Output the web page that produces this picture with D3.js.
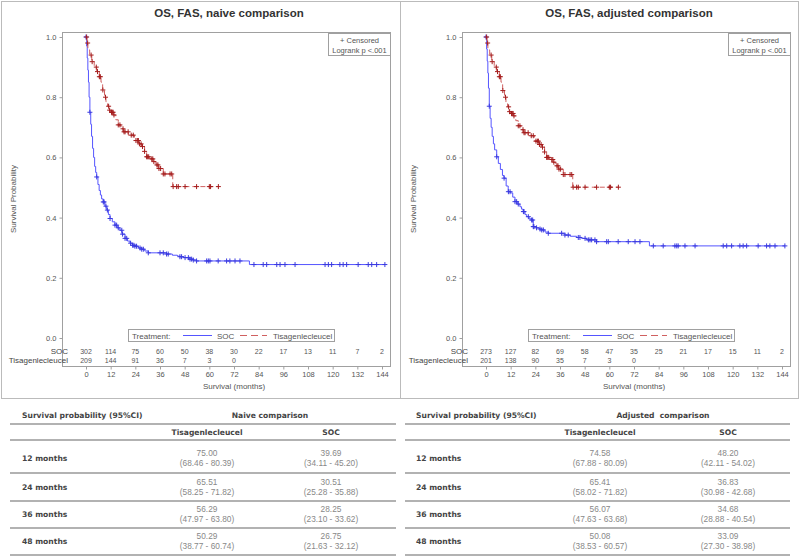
<!DOCTYPE html>
<html><head><meta charset="utf-8">
<script src="https://cdn.jsdelivr.net/npm/d3@7"></script>
<style>body{margin:0;background:#fff}svg{display:block;font-family:"Liberation Sans",Arial,sans-serif}</style>
</head><body><svg id="c" width="800" height="556"></svg>
<script>
// ---------- DATA ----------
const panelTitles = ["OS, FAS, naive comparison", "OS, FAS, adjusted comparison"];
const xTicks = [0, 12, 24, 36, 48, 60, 72, 84, 96, 108, 120, 132, 144];
const yTicks = [0.0, 0.2, 0.4, 0.6, 0.8, 1.0];
const groups = ["SOC", "Tisagenlecleucel"];

// Naive: SOC (event times, survival after event)
const naiveSocT = [0,0.3,0.6,0.9,1.2,1.5,1.9,2.3,2.7,3.2,3.7,4.2,4.7,5.2,5.8,6.4,7.0,7.6,8.4,9.2,10.1,10.9,11.7,12.8,14.1,15.2,16.5,17.5,19.0,20.2,21.4,22.6,23.8,25.5,27.1,28.6,30.3,39.2,42.0,44.5,45.7,47.5,50.0,52.0,53.8,79.5];
const naiveSocS = [1,0.97,0.93,0.89,0.85,0.80,0.75,0.71,0.67,0.63,0.60,0.57,0.55,0.535,0.51,0.49,0.475,0.462,0.452,0.438,0.425,0.41,0.397,0.386,0.375,0.366,0.358,0.345,0.331,0.322,0.315,0.308,0.305,0.299,0.295,0.289,0.283,0.279,0.275,0.272,0.27,0.267,0.262,0.259,0.256,0.244];
const naiveSocCens = [0,1.9,5.2,8.4,8.8,9.7,10.4,11.7,14.1,14.9,15.7,17.4,17.8,19,19.8,21.7,22.7,23.3,23.8,24.6,26.3,27.1,27.9,30.3,36,37.6,39.2,40,45.7,46.5,48.2,49.8,50.6,51.4,52.2,53.8,58.7,59.5,60.3,64.3,68.4,70,72.5,74.9,81.7,86.2,87.9,92.8,94.4,96.8,101.7,116.3,117.9,119.5,123.5,125.1,126.8,132.4,137.3,139,141.4,145.4];
// Naive: Tisagenlecleucel
const naiveTisT = [0,0.5,0.9,1.8,2.8,4.0,5.2,6.5,7.3,8.1,9.0,9.7,10.5,11.3,12.0,13.3,14.5,15.7,17.0,18.2,20.6,23.6,26.0,27.1,28.5,29.5,31.0,32.7,34.0,35.2,37.6,42.2];
const naiveTisS = [1,0.98,0.957,0.94,0.918,0.90,0.885,0.868,0.85,0.824,0.80,0.785,0.77,0.757,0.75,0.741,0.725,0.708,0.695,0.685,0.674,0.656,0.645,0.636,0.62,0.602,0.595,0.586,0.575,0.563,0.545,0.503];
const naiveTisCens = [0.3,0.8,2.5,3,5,5.6,6.5,7,8.2,9.5,11,11.5,12.4,12.8,13.2,13.6,15.7,16.5,18,18.5,19,20.5,22,23,24.3,25,25.5,26,26.8,27.5,28.5,29.5,30,30.5,32,32.5,33,34.5,35,35.5,36.3,37.6,38.4,40.9,41.7,42.4,44.1,44.9,48.2,53.8,60,60.6,64.4];

// Adjusted: SOC
const adjSocT = [0,0.3,0.6,0.9,1.2,1.6,2.0,2.5,3.0,3.6,4.2,5.2,6.0,7.0,8.0,8.8,9.8,10.8,12.0,13.0,14.1,15.2,16.5,17.3,18.1,19.0,19.8,21.0,22.2,23.0,24.5,26.0,27.1,28.7,30.3,38.4,41.0,44.1,46.5,49.0,53.8,79.5];
const adjSocS = [1,0.96,0.92,0.88,0.83,0.77,0.73,0.70,0.67,0.645,0.625,0.602,0.58,0.56,0.54,0.531,0.505,0.486,0.482,0.468,0.453,0.445,0.436,0.428,0.42,0.41,0.403,0.396,0.392,0.37,0.366,0.362,0.359,0.352,0.348,0.342,0.338,0.334,0.331,0.326,0.32,0.306];
const adjSocCens = [0,1.6,5.2,8.8,10.9,11.7,14.1,14.9,15.7,18.2,18.5,20.6,22.2,22.7,23,23.3,24.6,26.3,27.1,27.9,30.3,36.8,38.4,40,44.9,45.7,48.2,49.8,50.6,51.4,53,53.8,58.7,59.5,64.3,69.2,72.5,74.9,81.4,86.2,91.9,92.8,93.5,96.8,101.7,115.4,117.1,119.5,123.5,125.1,126.8,132.4,136.5,138.1,140.6,145.4];
// Adjusted: Tisagenlecleucel
const adjTisT = [0,0.5,0.9,1.8,2.8,4.0,5.2,6.5,7.3,8.1,9.0,9.7,10.5,11.3,12.0,13.3,14.5,15.7,17.0,18.2,20.6,23.6,26.0,27.1,28.5,29.5,31.0,32.7,34.0,35.2,37.6,42.2];
const adjTisS = [1,0.98,0.957,0.94,0.918,0.90,0.885,0.868,0.85,0.822,0.80,0.783,0.768,0.752,0.746,0.738,0.722,0.705,0.692,0.682,0.672,0.654,0.643,0.634,0.618,0.60,0.593,0.584,0.572,0.561,0.543,0.501];
const adjTisCens = [0.3,0.8,2.5,3,5,5.6,6.5,7,8.2,9.5,11,11.5,12.4,12.8,13.2,13.6,15.7,16.5,18,18.5,19,20.5,22,23,24.3,25,25.5,26,26.8,27.5,28.5,29.5,30,30.5,32,32.5,33,34.5,35,35.5,36.3,37.6,38.4,40.9,41.7,42.4,44.1,44.9,48.2,53.8,60,60.6,64.4];

// Numbers at risk
const naiveRiskSoc = [302,114,75,60,50,38,30,22,17,13,11,7,2];
const naiveRiskTis = [209,144,91,36,7,3,0];
const adjRiskSoc = [273,127,82,69,58,47,35,25,21,17,15,11,2];
const adjRiskTis = [201,138,90,35,7,3,0];

// Survival probability tables
const tableTitles = ["Naive comparison", "Adjusted  comparison"];
const tableRows = ["12 months", "24 months", "36 months", "48 months"];
const naiveTisEst = ["75.00","65.51","56.29","50.29"];
const naiveTisCI = ["(68.46 - 80.39)","(58.25 - 71.82)","(47.97 - 63.80)","(38.77 - 60.74)"];
const naiveSocEst = ["39.69","30.51","28.25","26.75"];
const naiveSocCI = ["(34.11 - 45.20)","(25.28 - 35.88)","(23.10 - 33.62)","(21.63 - 32.12)"];
const adjTisEst = ["74.58","65.41","56.07","50.08"];
const adjTisCI = ["(67.88 - 80.09)","(58.02 - 71.82)","(47.63 - 63.68)","(38.53 - 60.57)"];
const adjSocEst = ["48.20","36.83","34.68","33.09"];
const adjSocCI = ["(42.11 - 54.02)","(30.98 - 42.68)","(28.88 - 40.54)","(27.30 - 38.98)"];

// ---------- DRAW ----------
const svg = d3.select("#c");
const BLUE = "#5555ff", RED = "#c0302a", AX = "#555", FR = "#a0a0a0";

// outer panel borders
svg.append("rect").attr("x",1.5).attr("y",1.5).attr("width",797).attr("height",397)
  .attr("fill","none").attr("stroke","#bbb");
svg.append("line").attr("x1",400.5).attr("x2",400.5).attr("y1",1.5).attr("y2",398.5).attr("stroke","#bbb");

function stepVal(T, S, t){ let v = S[0]; for (let i=0;i<T.length;i++){ if (T[i] <= t) v = S[i]; } return v; }

const panels = [
  {ox:0, title:panelTitles[0], soc:{T:naiveSocT,S:naiveSocS,C:naiveSocCens}, tis:{T:naiveTisT,S:naiveTisS,C:naiveTisCens}, risk:[naiveRiskSoc,naiveRiskTis]},
  {ox:400, title:panelTitles[1], soc:{T:adjSocT,S:adjSocS,C:adjSocCens}, tis:{T:adjTisT,S:adjTisS,C:adjTisCens}, risk:[adjRiskSoc,adjRiskTis]}
];

panels.forEach(p => {
  const g = svg.append("g").attr("transform", `translate(${p.ox},0)`);
  const x = d3.scaleLinear().domain([0,144]).range([86,382]);
  const y = d3.scaleLinear().domain([0,1]).range([338,37]);

  g.append("text").attr("x",229).attr("y",17).attr("text-anchor","middle")
    .attr("font-size",11.5).attr("font-weight","bold").attr("fill","#333").text(p.title);

  // frame
  g.append("rect").attr("x",62.5).attr("y",32.5).attr("width",328).attr("height",334)
    .attr("fill","none").attr("stroke",FR);

  // y axis
  const ya = g.append("g").attr("transform","translate(62.5,0)")
    .call(d3.axisLeft(y).tickValues(yTicks).tickFormat(d3.format(".1f")).tickSize(3).tickPadding(3));
  ya.select(".domain").remove();
  ya.selectAll("line").attr("stroke",FR);
  ya.selectAll("text").attr("fill",AX).attr("font-size",7.5).attr("font-family","Liberation Sans, Arial, sans-serif");

  // x axis
  const xa = g.append("g").attr("transform","translate(0,366.5)")
    .call(d3.axisBottom(x).tickValues(xTicks).tickSize(3).tickPadding(2));
  xa.select(".domain").remove();
  xa.selectAll("line").attr("stroke",FR);
  xa.selectAll("text").attr("fill",AX).attr("font-size",7.5).attr("font-family","Liberation Sans, Arial, sans-serif");

  g.append("text").attr("x",234).attr("y",389).attr("text-anchor","middle").attr("font-size",8).attr("fill",AX).text("Survival (months)");
  g.append("text").attr("transform","translate(16,199) rotate(-90)").attr("text-anchor","middle").attr("font-size",8).attr("fill",AX).text("Survival Probability");

  // curves
  const line = d3.line().x(d=>x(d[0])).y(d=>y(d[1])).curve(d3.curveStepAfter);
  [[p.soc, BLUE, null, "#3a3ae0"],[p.tis, "#d06060", "5,3", "#a51d1d"]].forEach(([s,col,dash,mk]) => {
    const end = d3.max(s.C);
    const pts = s.T.map((t,i)=>[t,s.S[i]]);
    pts.push([end, s.S[s.S.length-1]]);
    const path = g.append("path").attr("d", line(pts)).attr("fill","none").attr("stroke",col).attr("stroke-width",1);
    if (dash) path.attr("stroke-dasharray",dash);
    const cg = g.append("g").attr("stroke",mk).attr("stroke-width",1);
    s.C.forEach(t => {
      const cx = x(t), cy = y(stepVal(s.T,s.S,t));
      cg.append("line").attr("x1",cx-2.5).attr("x2",cx+2.5).attr("y1",cy).attr("y2",cy);
      cg.append("line").attr("x1",cx).attr("x2",cx).attr("y1",cy-2.5).attr("y2",cy+2.5);
    });
  });

  // inset censored / logrank
  g.append("rect").attr("x",328.5).attr("y",33.5).attr("width",62).attr("height",22).attr("fill","#fff").attr("stroke",FR);
  g.append("text").attr("x",359.5).attr("y",43).attr("text-anchor","middle").attr("font-size",7.5).attr("fill",AX).text("+ Censored");
  g.append("text").attr("x",359.5).attr("y",53).attr("text-anchor","middle").attr("font-size",7.5).attr("fill",AX).text("Logrank p  <.001");

  // legend
  const lg = g.append("g");
  lg.append("rect").attr("x",128.5).attr("y",329.5).attr("width",206).attr("height",12).attr("fill","#fff").attr("stroke",FR);
  lg.append("text").attr("x",132).attr("y",338.5).attr("font-size",8).attr("fill",AX).text("Treatment:");
  lg.append("line").attr("x1",183).attr("x2",212).attr("y1",335.5).attr("y2",335.5).attr("stroke",BLUE);
  lg.append("text").attr("x",217).attr("y",338.5).attr("font-size",8).attr("fill",AX).text(groups[0]);
  lg.append("line").attr("x1",240).attr("x2",267).attr("y1",335.5).attr("y2",335.5).attr("stroke","#d06060").attr("stroke-dasharray","7,4");
  lg.append("text").attr("x",273).attr("y",338.5).attr("font-size",8).attr("fill",AX).text(groups[1]);

  // at risk
  const rowsY = [351, 360];
  groups.forEach((gname,i) => {
    g.append("text").attr("x",68).attr("y",rowsY[i]+3).attr("text-anchor","end").attr("font-size",8).attr("fill","#444").text(gname);
    g.selectAll(null).data(p.risk[i]).enter().append("text")
      .attr("x",(d,j)=>x(xTicks[j])).attr("y",rowsY[i]+2.5).attr("text-anchor","middle")
      .attr("font-size",7).attr("fill",AX).text(d=>d);
  });
});

// tables
const tables = [
  {x0:10, x1:396, lab:22, c1:207, c2:331, title:tableTitles[0], tc:270, te:naiveTisEst, tci:naiveTisCI, se:naiveSocEst, sci:naiveSocCI},
  {x0:405, x1:790, lab:416, c1:600, c2:728, title:tableTitles[1], tc:663, te:adjTisEst, tci:adjTisCI, se:adjSocEst, sci:adjSocCI}
];
const rowCenters = [458, 487, 514, 541];
const lineYs = [424, 440, 473, 501, 528, 555];
tables.forEach(t => {
  const g = svg.append("g").attr("font-family","DejaVu Sans, Verdana, sans-serif");
  g.append("text").attr("x",t.lab).attr("y",418).attr("font-size",7.6).attr("font-weight","bold").attr("fill","#444").text("Survival probability (95%CI)");
  g.append("text").attr("x",t.tc).attr("y",418).attr("text-anchor","middle").attr("font-size",7.6).attr("font-weight","bold").attr("fill","#444").attr("xml:space","preserve").style("white-space","pre").text(t.title);
  g.append("text").attr("x",t.c1).attr("y",435).attr("text-anchor","middle").attr("font-size",7.6).attr("font-weight","bold").attr("fill","#444").text(groups[1]);
  g.append("text").attr("x",t.c2).attr("y",435).attr("text-anchor","middle").attr("font-size",7.6).attr("font-weight","bold").attr("fill","#444").text(groups[0]);
  lineYs.forEach(ly => g.append("line").attr("x1",t.x0).attr("x2",t.x1).attr("y1",ly).attr("y2",ly).attr("stroke","#999").attr("stroke-width",1.5));
  tableRows.forEach((r,i) => {
    const cy = rowCenters[i];
    g.append("text").attr("x",t.lab).attr("y",cy+3).attr("font-size",7.6).attr("font-weight","bold").attr("fill","#444").text(r);
    const vals = [[t.c1,t.te[i],t.tci[i]],[t.c2,t.se[i],t.sci[i]]];
    vals.forEach(([cx,e,ci]) => {
      g.append("text").attr("x",cx).attr("y",cy-2).attr("text-anchor","middle").attr("font-size",8.3).attr("fill","#888").attr("font-family","Liberation Sans, Arial, sans-serif").text(e);
      g.append("text").attr("x",cx).attr("y",cy+8).attr("text-anchor","middle").attr("font-size",8.3).attr("fill","#888").attr("font-family","Liberation Sans, Arial, sans-serif").text(ci);
    });
  });
});
</script></body></html>
